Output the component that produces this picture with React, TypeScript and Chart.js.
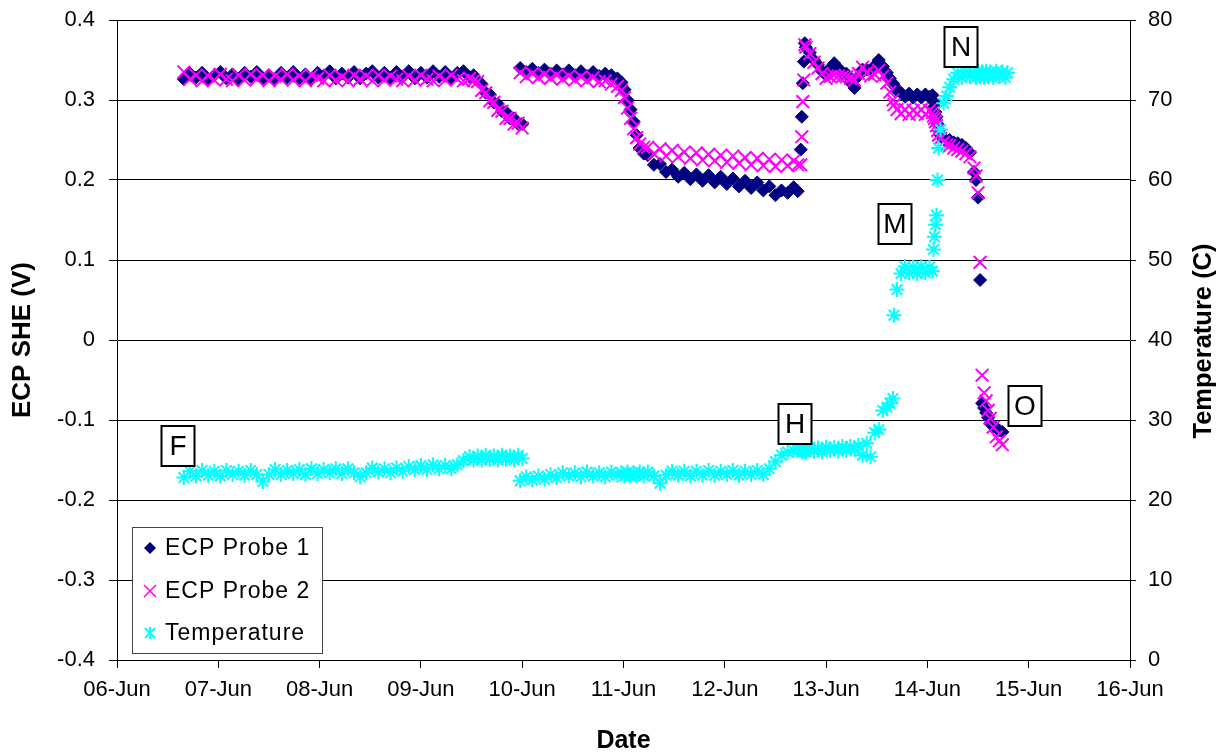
import React, { useEffect, useRef } from 'react';
import { Chart, registerables } from 'chart.js';

Chart.register(...registerables);

// ---------- tick labels ----------
const dayTickValues = [0, 1, 2, 3, 4, 5, 6, 7, 8, 9, 10];
const dateTickLabels = ['06-Jun', '07-Jun', '08-Jun', '09-Jun', '10-Jun', '11-Jun', '12-Jun', '13-Jun', '14-Jun', '15-Jun', '16-Jun'];
const ecpTickValues = [-0.4, -0.3, -0.2, -0.1, 0, 0.1, 0.2, 0.3, 0.4];
const ecpTickLabels = ['-0.4', '-0.3', '-0.2', '-0.1', '0', '0.1', '0.2', '0.3', '0.4'];
const tempTickValues = [0, 10, 20, 30, 40, 50, 60, 70, 80];
const tempTickLabels = ['0', '10', '20', '30', '40', '50', '60', '70', '80'];

// ---------- data (x = days after 06-Jun 00:00) ----------
// Segment A (06-Jun .. 10-Jun)
const daysA = [
  0.66, 0.72, 0.78, 0.84, 0.90, 0.96, 1.02, 1.08, 1.14, 1.20, 1.26, 1.32,
  1.38, 1.44, 1.50, 1.56, 1.62, 1.68, 1.74, 1.80, 1.86, 1.92, 1.98, 2.04,
  2.10, 2.16, 2.22, 2.28, 2.34, 2.40, 2.46, 2.52, 2.58, 2.64, 2.70, 2.76,
  2.82, 2.88, 2.94, 3.00, 3.06, 3.12, 3.18, 3.24, 3.30, 3.36, 3.42, 3.48,
  3.52, 3.56, 3.60, 3.64, 3.68, 3.72, 3.76, 3.80, 3.84, 3.88, 3.92, 3.96, 4.00,
];
const probe1A = [
  0.326, 0.333, 0.328, 0.334, 0.326, 0.331, 0.335, 0.327, 0.332, 0.326, 0.334, 0.329,
  0.335, 0.327, 0.331, 0.326, 0.334, 0.328, 0.335, 0.327, 0.332, 0.326, 0.334, 0.330,
  0.336, 0.327, 0.333, 0.328, 0.335, 0.327, 0.333, 0.336, 0.328, 0.334, 0.327, 0.335,
  0.329, 0.336, 0.327, 0.334, 0.328, 0.336, 0.329, 0.335, 0.327, 0.334, 0.336, 0.329,
  0.331, 0.324, 0.320, 0.309, 0.307, 0.297, 0.295, 0.286, 0.285, 0.277, 0.277, 0.270, 0.270,
];
const probe2A = [
  0.335, 0.326, 0.331, 0.324, 0.330, 0.325, 0.332, 0.326, 0.324, 0.331, 0.325, 0.332,
  0.326, 0.331, 0.324, 0.330, 0.326, 0.332, 0.325, 0.330, 0.324, 0.331, 0.327, 0.324,
  0.331, 0.325, 0.329, 0.324, 0.331, 0.326, 0.330, 0.324, 0.331, 0.325, 0.330, 0.326,
  0.324, 0.330, 0.325, 0.331, 0.326, 0.324, 0.330, 0.325, 0.331, 0.326, 0.324, 0.327,
  0.324, 0.323, 0.312, 0.309, 0.299, 0.297, 0.287, 0.286, 0.277, 0.277, 0.270, 0.271, 0.265,
];
const tempA = [
  22.8, 23.6, 23.0, 23.7, 23.1, 23.6, 23.0, 23.7, 23.2, 23.6, 23.1, 23.7,
  23.2, 22.3, 23.2, 23.8, 23.2, 23.7, 23.3, 23.8, 23.2, 23.9, 23.3, 23.8,
  23.4, 23.9, 23.3, 23.9, 23.4, 22.9, 23.4, 24.0, 23.5, 23.9, 23.4, 24.0,
  23.6, 24.2, 23.8, 24.3, 23.8, 24.4, 23.9, 24.3, 23.9, 24.4, 24.9, 25.4,
  25.0, 25.5, 25.0, 25.6, 25.1, 25.5, 25.0, 25.6, 25.1, 25.5, 25.0, 25.6, 25.2,
];

// Segment B (10-Jun .. 12-Jun evening)
const daysB = [
  3.98, 4.04, 4.10, 4.16, 4.22, 4.28, 4.34, 4.40, 4.46, 4.52, 4.58, 4.64, 4.70, 4.76, 4.82, 4.88, 4.94,
  4.98, 5.01, 5.04, 5.07, 5.10, 5.13, 5.16, 5.20,
  5.24, 5.30, 5.36, 5.42, 5.48, 5.54, 5.60, 5.66, 5.72, 5.78,
  5.84, 5.90, 5.96, 6.02, 6.08, 6.14, 6.20, 6.26, 6.32, 6.38,
  6.44, 6.50, 6.56, 6.62, 6.68, 6.72,
];
const probe1B = [
  0.340, 0.335, 0.339, 0.334, 0.338, 0.333, 0.337, 0.332, 0.337, 0.331, 0.336, 0.330, 0.335, 0.330, 0.333, 0.331, 0.327,
  0.322, 0.313, 0.300, 0.288, 0.273, 0.256, 0.240, 0.233,
  0.231, 0.219, 0.220, 0.210, 0.213, 0.204, 0.209, 0.201, 0.207, 0.199,
  0.206, 0.197, 0.204, 0.195, 0.202, 0.192, 0.199, 0.190, 0.197, 0.187,
  0.192, 0.181, 0.187, 0.184, 0.191, 0.186,
];
const probe2B = [
  0.334, 0.329, 0.333, 0.328, 0.332, 0.327, 0.331, 0.326, 0.330, 0.325, 0.329, 0.324, 0.328, 0.323, 0.324, 0.320, 0.317,
  0.312, 0.303, 0.290, 0.277, 0.264, 0.253, 0.245, 0.241,
  0.241, 0.233, 0.239, 0.230, 0.237, 0.229, 0.235, 0.227, 0.234, 0.225,
  0.232, 0.224, 0.231, 0.222, 0.230, 0.221, 0.228, 0.219, 0.227, 0.218,
  0.226, 0.217, 0.225, 0.218, 0.224, 0.219,
];
const tempB = [
  22.4, 22.9, 22.5, 23.0, 22.6, 23.2, 22.8, 23.4, 23.0, 23.4, 22.9, 23.5, 23.0, 23.4, 22.9, 23.5, 23.1,
  23.4, 23.0, 23.5, 23.0, 23.4, 23.1, 23.5, 23.0,
  23.5, 23.0, 22.1, 23.1, 23.6, 23.1, 23.6, 23.0, 23.6, 23.1,
  23.7, 23.1, 23.6, 23.2, 23.7, 23.1, 23.6, 23.2, 23.7, 23.2,
  23.9, 24.8, 25.6, 26.0, 26.2, 26.3,
];

// Segment C (12-Jun evening .. 14-Jun evening)
const daysC = [
  6.75, 6.76, 6.77, 6.78, 6.79,
  6.80, 6.84, 6.88, 6.92, 6.96,
  7.00, 7.04, 7.08, 7.12, 7.16,
  7.20, 7.24, 7.28, 7.32, 7.36,
  7.40, 7.44, 7.48, 7.52, 7.56,
  7.60, 7.63, 7.66, 7.67, 7.70,
  7.74, 7.78, 7.82, 7.86, 7.90,
  7.94, 7.98, 8.02, 8.05, 8.06,
  8.07, 8.08, 8.09, 8.10, 8.11,
  8.13, 8.16, 8.19, 8.22, 8.26,
  8.30, 8.34, 8.38, 8.42, 8.46,
  8.48, 8.50, 8.52, 8.54, 8.56,
  8.58, 8.60, 8.62, 8.65, 8.68,
  8.71, 8.74, 8.77, 8.79,
];
const probe1C = [
  0.238, 0.279, 0.321, 0.348, 0.371,
  0.366, 0.359, 0.350, 0.344, 0.336,
  0.331, 0.340, 0.346, 0.340, 0.334,
  0.333, 0.322, 0.315, 0.330, 0.338,
  0.338, 0.337, 0.343, 0.350, 0.342,
  0.334, 0.327, 0.321, 0.318, 0.312,
  0.309, 0.304, 0.308, 0.303, 0.307,
  0.303, 0.307, 0.304, 0.306, 0.298,
  0.292, 0.285, 0.279, 0.270, 0.262,
  0.256, 0.251, 0.249, 0.250, 0.247,
  0.246, 0.244, 0.240, 0.234, 0.210,
  0.200, 0.178, 0.075, -0.079, -0.085,
  -0.091, -0.097, -0.104, -0.108, -0.110,
  -0.113, -0.115, null, null,
];
const probe2C = [
  0.219, 0.254, 0.298, 0.325, 0.369,
  0.366, 0.358, 0.347, 0.340, 0.333,
  0.327, 0.329, 0.331, 0.330, 0.329,
  0.329, 0.327, 0.325, 0.333, 0.341,
  0.334, 0.330, 0.332, 0.337, 0.330,
  0.321, 0.310, 0.300, 0.294, 0.288,
  0.283, 0.288, 0.282, 0.287, 0.283,
  0.288, 0.282, 0.287, 0.284, 0.280,
  0.277, 0.273, 0.268, 0.262, 0.256,
  0.252, 0.247, 0.244, 0.243, 0.240,
  0.238, 0.236, 0.233, 0.229, 0.215,
  0.205, 0.184, 0.097, -0.044, -0.066,
  -0.076, -0.088, -0.098, -0.109, -0.121,
  -0.126, -0.131, null, null,
];
const tempC = [
  26.3, 26.0, 26.5, 26.1, 26.5,
  26.0, 26.6, 26.1, 26.5, 26.0,
  26.6, 26.2, 26.6, 26.1, 26.7,
  26.2, 26.7, 26.3, 26.8, 25.6,
  27.1, 25.4, 28.4, 28.8, 31.2,
  31.6, 32.1, 32.7, 43.1, 46.3,
  48.3, 49.2, 48.4, 49.1, 48.3,
  49.2, 48.4, 49.1, 48.6, 51.3,
  52.9, 54.4, 55.6, 60.0, 64.0,
  66.3, 69.6, 70.5, 71.6, 72.6,
  73.4, 72.8, 73.6, 72.9, 73.5,
  72.8, 73.6, 72.9, 73.5, 72.8,
  73.6, 72.9, 73.5, 72.8, 73.6,
  72.9, 73.5, 72.8, 73.4,
];

// ---------- annotation labels (anchored at data coordinates) ----------
const noteLabels = ['F', 'H', 'M', 'N', 'O'];
const noteDays = [0.60, 6.69, 7.68, 8.33, 8.96];
const noteEcp = [-0.1325, -0.105, 0.145, 0.366, -0.0825];

const seriesNames = ['ECP Probe 1', 'ECP Probe 2', 'Temperature'];

const FONT = '"Liberation Sans", Arial, Helvetica, sans-serif';

type Pt = { x: number; y: number };
function toPoints(days: number[], vals: (number | null)[]): Pt[] {
  const out: Pt[] = [];
  days.forEach((d, i) => {
    const v = vals[i];
    if (v !== null && v !== undefined) out.push({ x: d, y: v });
  });
  return out;
}

const overlayPlugin = {
  id: 'overlay',
  afterDraw(chart: any) {
    const ctx: CanvasRenderingContext2D = chart.ctx;
    const xs = chart.scales.x;
    const ys = chart.scales.y;

    // annotation boxes
    ctx.save();
    ctx.font = `28px ${FONT}`;
    ctx.textAlign = 'center';
    ctx.textBaseline = 'middle';
    noteLabels.forEach((lab, i) => {
      const cx = Math.round(xs.getPixelForValue(noteDays[i]));
      const cy = Math.round(ys.getPixelForValue(noteEcp[i]));
      const w = 33;
      const h = 40;
      ctx.fillStyle = '#ffffff';
      ctx.fillRect(cx - w / 2, cy - h / 2, w, h);
      ctx.strokeStyle = '#000000';
      ctx.lineWidth = 2;
      ctx.strokeRect(cx - w / 2, cy - h / 2, w, h);
      ctx.fillStyle = '#000000';
      ctx.fillText(lab, cx, cy + 1);
    });
    ctx.restore();

    // legend
    ctx.save();
    ctx.fillStyle = '#ffffff';
    ctx.fillRect(132, 527, 190, 126);
    ctx.strokeStyle = '#444444';
    ctx.lineWidth = 1;
    ctx.strokeRect(132.5, 527.5, 190, 126);
    const rows = [548, 591, 633];
    const mx = 150;
    ctx.fillStyle = '#000080';
    ctx.beginPath();
    ctx.moveTo(mx, rows[0] - 6);
    ctx.lineTo(mx + 6, rows[0]);
    ctx.lineTo(mx, rows[0] + 6);
    ctx.lineTo(mx - 6, rows[0]);
    ctx.closePath();
    ctx.fill();
    ctx.strokeStyle = '#FF00FF';
    ctx.lineWidth = 1.5;
    ctx.beginPath();
    ctx.moveTo(mx - 6, rows[1] - 6);
    ctx.lineTo(mx + 6, rows[1] + 6);
    ctx.moveTo(mx + 6, rows[1] - 6);
    ctx.lineTo(mx - 6, rows[1] + 6);
    ctx.stroke();
    ctx.strokeStyle = '#00FFFF';
    ctx.lineWidth = 2;
    ctx.beginPath();
    ctx.moveTo(mx - 5, rows[2] - 5);
    ctx.lineTo(mx + 5, rows[2] + 5);
    ctx.moveTo(mx + 5, rows[2] - 5);
    ctx.lineTo(mx - 5, rows[2] + 5);
    ctx.moveTo(mx, rows[2] - 6);
    ctx.lineTo(mx, rows[2] + 6);
    ctx.stroke();
    ctx.fillStyle = '#000000';
    ctx.font = `23px ${FONT}`;
    (ctx as any).letterSpacing = '1px';
    ctx.textAlign = 'left';
    ctx.textBaseline = 'middle';
    seriesNames.forEach((n, i) => ctx.fillText(n, 165, rows[i] + 1));
    ctx.restore();

    // right axis title (rotated like the left one)
    ctx.save();
    ctx.translate(1204, 341);
    ctx.rotate(-Math.PI / 2);
    ctx.font = `bold 25.5px ${FONT}`;
    ctx.fillStyle = '#000000';
    ctx.textAlign = 'center';
    ctx.textBaseline = 'middle';
    ctx.fillText('Temperature (C)', 0, 0);
    ctx.restore();
  },
};

export default function App() {
  const ref = useRef<HTMLCanvasElement | null>(null);

  useEffect(() => {
    if (!ref.current) return;
    const chart = new Chart(ref.current, {
      type: 'scatter',
      data: {
        datasets: [
          {
            label: seriesNames[0],
            data: [...toPoints(daysA, probe1A), ...toPoints(daysB, probe1B), ...toPoints(daysC, probe1C)],
            yAxisID: 'y',
            pointStyle: 'rectRot',
            pointRadius: 6.5,
            pointBackgroundColor: '#000080',
            pointBorderColor: '#000080',
            pointBorderWidth: 1,
            showLine: false,
            order: 3,
          },
          {
            label: seriesNames[1],
            data: [...toPoints(daysA, probe2A), ...toPoints(daysB, probe2B), ...toPoints(daysC, probe2C)],
            yAxisID: 'y',
            pointStyle: 'crossRot',
            pointRadius: 9,
            pointBackgroundColor: '#FF00FF',
            pointBorderColor: '#FF00FF',
            pointBorderWidth: 2,
            showLine: false,
            order: 2,
          },
          {
            label: seriesNames[2],
            data: [...toPoints(daysA, tempA), ...toPoints(daysB, tempB), ...toPoints(daysC, tempC)],
            yAxisID: 'y2',
            pointStyle: 'star',
            pointRadius: 7.5,
            pointBackgroundColor: '#00FFFF',
            pointBorderColor: '#00FFFF',
            pointBorderWidth: 2,
            showLine: false,
            order: 1,
          },
        ],
      },
      options: {
        responsive: false,
        animation: false,
        events: [],
        layout: { padding: { top: 20, left: 0, right: 0, bottom: 0 } },
        plugins: {
          legend: { display: false },
          tooltip: { enabled: false },
        },
        scales: {
          x: {
            type: 'linear',
            position: 'bottom',
            min: 0,
            max: 10,
            afterBuildTicks: (s: any) => {
              s.ticks = dayTickValues.map((v) => ({ value: v }));
            },
            afterFit: (s: any) => {
              s.height = 96;
              s.paddingLeft = 0;
              s.paddingRight = 0;
            },
            ticks: {
              autoSkip: false,
              maxRotation: 0,
              minRotation: 0,
              padding: 9,
              color: '#000000',
              font: { family: FONT, size: 22 },
              callback: (_v: any, i: number) => dateTickLabels[i],
            },
            grid: { display: true, drawOnChartArea: false, drawTicks: true, tickLength: 8, color: '#000000' },
            border: { display: true, color: '#000000', width: 1 },
            title: {
              display: true,
              text: 'Date',
              color: '#000000',
              font: { family: FONT, size: 25, weight: 'bold', lineHeight: 1 },
              padding: { top: 0, bottom: 2.5 },
            },
          },
          y: {
            type: 'linear',
            position: 'left',
            min: -0.4,
            max: 0.4,
            afterBuildTicks: (s: any) => {
              s.ticks = ecpTickValues.map((v) => ({ value: v }));
            },
            afterFit: (s: any) => {
              s.width = 117;
              s.paddingTop = 0;
              s.paddingBottom = 0;
            },
            ticks: {
              padding: 14,
              color: '#000000',
              font: { family: FONT, size: 22 },
              callback: (_v: any, i: number) => ecpTickLabels[i],
            },
            grid: { color: '#000000', lineWidth: 1, tickLength: 8, drawTicks: true },
            border: { display: true, color: '#000000', width: 1 },
            title: {
              display: true,
              text: 'ECP SHE (V)',
              color: '#000000',
              font: { family: FONT, size: 26, weight: 'bold', lineHeight: 1 },
              padding: { top: 9.5, bottom: 0 },
            },
          },
          y2: {
            type: 'linear',
            position: 'right',
            min: 0,
            max: 80,
            afterBuildTicks: (s: any) => {
              s.ticks = tempTickValues.map((v) => ({ value: v }));
            },
            afterFit: (s: any) => {
              s.width = 88;
              s.paddingTop = 0;
              s.paddingBottom = 0;
            },
            ticks: {
              padding: 12,
              color: '#000000',
              font: { family: FONT, size: 22 },
              callback: (_v: any, i: number) => tempTickLabels[i],
            },
            grid: { drawOnChartArea: false, color: '#000000', tickLength: 6, drawTicks: true },
            border: { display: true, color: '#000000', width: 1 },
            title: { display: false },
          },
        },
      },
      plugins: [overlayPlugin],
    } as any);
    return () => chart.destroy();
  }, []);

  return (
    <div style={{ position: 'fixed', left: 0, top: 0, width: 1218, height: 756, background: '#ffffff' }}>
      <canvas ref={ref} width={1218} height={756} style={{ width: 1218, height: 756, display: 'block' }} />
    </div>
  );
}
